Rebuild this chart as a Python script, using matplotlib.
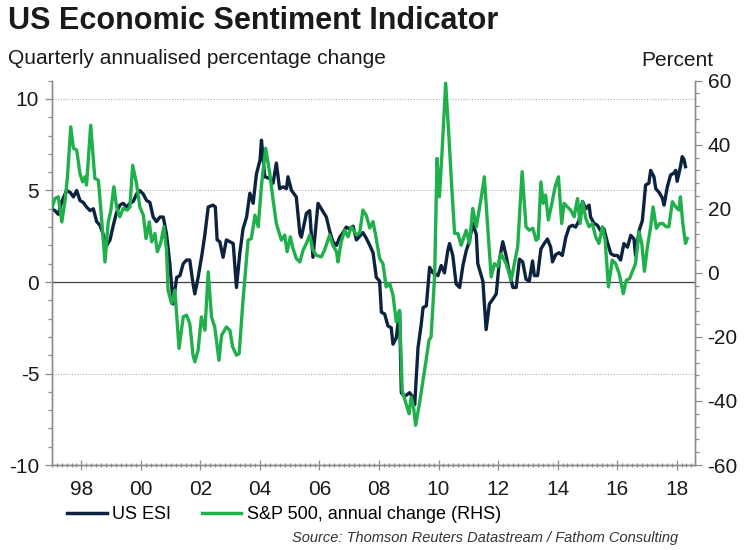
import matplotlib.pyplot as plt
from matplotlib.lines import Line2D
from matplotlib.ticker import MultipleLocator

plt.rcParams['font.family'] = ['Liberation Sans', 'DejaVu Sans']
plt.rcParams['axes.unicode_minus'] = False

# ---------------------------
# DATA
# ---------------------------
esi_t = [1997.00, 1997.11, 1997.22, 1997.34, 1997.50, 1997.62, 1997.73, 1997.84, 1997.95, 1998.06,
         1998.17, 1998.29, 1998.40, 1998.51, 1998.62, 1998.73, 1998.85, 1998.96, 1999.07, 1999.18,
         1999.29, 1999.40, 1999.52, 1999.63, 1999.74, 1999.85, 1999.96, 2000.08, 2000.19, 2000.30,
         2000.41, 2000.52, 2000.64, 2000.75, 2000.86, 2000.97, 2001.08, 2001.20, 2001.31, 2001.42,
         2001.53, 2001.64, 2001.75, 2001.81, 2001.92, 2002.05, 2002.14, 2002.26, 2002.42, 2002.50,
         2002.56, 2002.65, 2002.76, 2002.87, 2002.99, 2003.10, 2003.21, 2003.32, 2003.43, 2003.55,
         2003.66, 2003.77, 2003.88, 2004.00, 2004.05, 2004.16, 2004.33, 2004.44, 2004.55, 2004.66,
         2004.78, 2004.89, 2004.94, 2005.06, 2005.22, 2005.34, 2005.39, 2005.56, 2005.67, 2005.78,
         2005.95, 2006.12, 2006.23, 2006.34, 2006.45, 2006.57, 2006.68, 2006.79, 2006.90, 2007.01,
         2007.13, 2007.24, 2007.35, 2007.46, 2007.57, 2007.69, 2007.80, 2007.91, 2008.02, 2008.08,
         2008.19, 2008.30, 2008.41, 2008.47, 2008.58, 2008.69, 2008.75, 2008.86, 2009.03, 2009.14,
         2009.20, 2009.31, 2009.42, 2009.48, 2009.59, 2009.70, 2009.81, 2009.98, 2010.09, 2010.20,
         2010.31, 2010.37, 2010.48, 2010.59, 2010.71, 2010.82, 2010.93, 2011.04, 2011.15, 2011.27,
         2011.32, 2011.49, 2011.60, 2011.71, 2011.82, 2011.94, 2012.05, 2012.16, 2012.27, 2012.38,
         2012.50, 2012.61, 2012.72, 2012.83, 2012.94, 2013.05, 2013.16, 2013.22, 2013.33, 2013.44,
         2013.55, 2013.66, 2013.77, 2013.83, 2013.94, 2014.05, 2014.16, 2014.28, 2014.39, 2014.50,
         2014.61, 2014.72, 2014.84, 2014.95, 2015.06, 2015.11, 2015.23, 2015.34, 2015.45, 2015.56,
         2015.67, 2015.79, 2015.90, 2016.01, 2016.12, 2016.23, 2016.35, 2016.46, 2016.57, 2016.62,
         2016.74, 2016.85, 2016.96, 2017.07, 2017.13, 2017.24, 2017.30, 2017.41, 2017.52, 2017.58,
         2017.69, 2017.80, 2017.91, 2017.97, 2018.02, 2018.13, 2018.19, 2018.25, 2018.30]
esi_v = [4.0, 3.9, 3.7, 4.4, 5.0, 4.9, 4.65, 5.0, 4.45, 4.35,
         4.1, 3.9, 4.0, 3.3, 3.1, 2.6, 2.0, 2.3, 3.1, 3.8,
         4.2, 4.3, 4.1, 4.3, 4.4, 4.8, 5.0, 4.8, 4.45, 4.35,
         3.55, 3.3, 3.55, 3.55, 2.6, 1.0, -1.2, 0.25, 0.35, 1.0,
         1.2, 1.2, -0.1, -0.65, 0.25, 1.5, 2.5, 4.1, 4.2, 4.1,
         2.3, 2.2, 1.35, 2.3, 2.2, 2.1, -0.3, 1.55, 2.9, 3.55,
         4.85, 4.3, 5.9, 6.65, 7.75, 5.75, 5.65, 5.4, 6.5, 5.1,
         5.2, 5.1, 5.75, 5.0, 4.65, 2.65, 2.45, 3.75, 3.9, 1.35,
         4.3, 3.85, 3.55, 2.8, 2.2, 2.0, 2.45, 2.7, 3.0, 2.9,
         3.05, 2.3, 2.5, 2.7, 2.4, 2.0, 1.6, 0.25, 0.05, -1.65,
         -1.75, -2.4, -2.5, -3.4, -3.05, -1.6, -6.05, -6.25, -6.05, -6.3,
         -6.7, -3.6, -2.3, -1.4, -1.3, 0.8, 0.5, 0.35, 0.9, 0.5,
         1.7, 2.1, 1.45, -0.1, -0.3, 0.9, 1.7, 2.25, 3.2, 2.6,
         1.0, 0.05, -2.6, -1.2, -0.95, -0.65, 1.25, 2.2, 1.45, 0.5,
         -0.3, -0.3, 1.25, 1.1, 0.15, 0.05, 1.15, 0.35, 0.35, 1.8,
         2.1, 2.35, 1.9, 1.1, 1.5, 1.6, 1.45, 2.45, 3.0, 3.1,
         3.0, 3.35, 4.4, 4.0, 4.2, 3.55, 3.2, 3.1, 2.8, 2.9,
         2.2, 1.55, 1.45, 1.45, 1.2, 2.1, 1.9, 2.55, 2.35, 1.45,
         2.8, 3.35, 5.3, 5.4, 6.1, 5.75, 5.1, 4.9, 4.6, 4.2,
         5.2, 5.85, 5.95, 6.1, 5.5, 6.3, 6.85, 6.7, 6.3]

spx_t = [1997.00, 1997.11, 1997.22, 1997.34, 1997.45, 1997.53, 1997.64, 1997.73, 1997.84, 1997.95,
         1998.04, 1998.12, 1998.17, 1998.31, 1998.45, 1998.57, 1998.68, 1998.79, 1998.90, 1998.98,
         1999.09, 1999.18, 1999.29, 1999.40, 1999.54, 1999.63, 1999.72, 1999.85, 1999.96, 2000.08,
         2000.17, 2000.28, 2000.36, 2000.47, 2000.55, 2000.66, 2000.77, 2000.86, 2000.91, 2001.03,
         2001.14, 2001.28, 2001.42, 2001.53, 2001.64, 2001.75, 2001.81, 2001.92, 2002.03, 2002.15,
         2002.26, 2002.37, 2002.48, 2002.62, 2002.71, 2002.87, 2002.99, 2003.08, 2003.21, 2003.30,
         2003.43, 2003.60, 2003.71, 2003.83, 2003.94, 2004.05, 2004.19, 2004.33, 2004.44, 2004.55,
         2004.72, 2004.83, 2004.91, 2005.02, 2005.11, 2005.22, 2005.34, 2005.45, 2005.56, 2005.67,
         2005.78, 2005.89, 2006.06, 2006.17, 2006.34, 2006.45, 2006.57, 2006.62, 2006.73, 2006.85,
         2006.96, 2007.07, 2007.24, 2007.35, 2007.46, 2007.57, 2007.69, 2007.80, 2007.91, 2008.02,
         2008.13, 2008.24, 2008.36, 2008.47, 2008.58, 2008.69, 2008.78, 2008.89, 2009.01, 2009.08,
         2009.16, 2009.23, 2009.36, 2009.48, 2009.59, 2009.68, 2009.75, 2009.87, 2009.95, 2010.03,
         2010.11, 2010.24, 2010.35, 2010.43, 2010.54, 2010.65, 2010.76, 2010.93, 2011.04, 2011.15,
         2011.27, 2011.43, 2011.54, 2011.66, 2011.77, 2011.88, 2011.99, 2012.10, 2012.27, 2012.44,
         2012.55, 2012.66, 2012.81, 2012.94, 2013.05, 2013.17, 2013.28, 2013.35, 2013.44, 2013.52,
         2013.60, 2013.69, 2013.81, 2013.92, 2014.03, 2014.14, 2014.22, 2014.33, 2014.44, 2014.56,
         2014.67, 2014.76, 2014.84, 2014.95, 2015.06, 2015.17, 2015.28, 2015.39, 2015.51, 2015.60,
         2015.71, 2015.84, 2015.95, 2016.07, 2016.21, 2016.31, 2016.42, 2016.51, 2016.62, 2016.74,
         2016.83, 2016.92, 2017.02, 2017.13, 2017.21, 2017.32, 2017.43, 2017.54, 2017.65, 2017.74,
         2017.86, 2017.97, 2018.08, 2018.13, 2018.21, 2018.30, 2018.36]
spx_v = [20.1, 23.2, 23.75, 15.9, 22.7, 30.0, 45.6, 38.9, 38.3, 31.0,
         28.4, 30.0, 27.4, 46.1, 29.5, 28.9, 16.5, 3.4, 15.9, 19.1,
         26.9, 20.6, 17.5, 20.1, 19.6, 20.6, 33.6, 27.9, 20.6, 18.0,
         10.7, 15.9, 9.7, 12.3, 6.6, 9.2, 14.4, 7.1, -5.4, -9.6,
         -5.4, -23.6, -13.75, -13.2, -15.8, -25.7, -27.8, -24.2, -13.75, -17.9,
         0.3, -13.75, -16.9, -27.3, -19.5, -16.9, -18.0, -23.1, -25.7, -25.2,
         -8.5, 10.2, 10.7, 18.0, 14.4, 27.4, 38.9, 31.0, 22.7, 15.4,
         10.2, 11.8, 6.6, 11.25, 7.6, 4.5, 3.4, 7.1, 9.2, 11.8,
         7.1, 5.5, 5.0, 7.1, 11.8, 8.6, 6.6, 3.4, 9.7, 13.3,
         11.25, 14.4, 11.8, 12.5, 19.6, 18.0, 14.0, 16.0, 10.5, 4.5,
         2.9, -4.4, -3.3, -7.0, -15.3, -11.7, -36.7, -40.3, -44.0, -38.8,
         -41.9, -47.6, -40.8, -33.5, -26.8, -21.0, -20.0, -0.7, 35.7, 23.75,
         36.25, 59.2, 42.5, 29.0, 12.3, 12.3, 8.6, 13.3, 9.2, 20.1,
         14.4, 23.2, 30.0, 13.3, -1.25, 2.9, 1.9, 6.0, 2.9, -2.3,
         2.9, 8.1, 31.6, 14.4, 13.3, 13.9, 10.2, 10.7, 28.4, 21.7,
         24.3, 16.5, 21.7, 26.9, 30.0, 15.4, 21.7, 20.6, 19.6, 17.5,
         23.2, 15.4, 22.2, 17.0, 14.4, 15.4, 11.25, 9.2, 14.4, 10.2,
         -4.4, 4.0, 2.9, -0.2, -6.5, -2.3, -1.8, 0.3, 2.9, 12.8,
         9.2, 0.5, 8.1, 14.4, 20.6, 13.9, 15.4, 15.4, 14.4, 14.4,
         22.2, 20.6, 19.6, 23.75, 15.4, 9.2, 10.7]

year_ticks = list(range(1998, 2019, 2))
year_labels = ['98', '00', '02', '04', '06', '08', '10', '12', '14', '16', '18']

navy = '#0c2340'
green = '#1fb04b'
grey = '#8c8c8c'
txt = '#1a1a1a'

# ---------------------------
# FIGURE
# ---------------------------
fig = plt.figure(figsize=(7.45, 5.5), dpi=100)
ax = fig.add_axes([0.0694, 0.1545, 0.8635, 0.6988])
ax2 = ax.twinx()

ax.plot(esi_t, esi_v, color=navy, lw=2.4, zorder=3)
ax2.plot(spx_t, spx_v, color=green, lw=2.4, zorder=3)

ax.set_xlim(1997.0, 2018.62)
ax.set_ylim(-10, 11)
ax2.set_ylim(-60, 60)

# gridlines
for g in [10, 5, -5]:
    ax.axhline(g, color='#b0b0b0', lw=0.8, ls=(0, (1, 1.5)), zorder=1)
ax.axhline(0, color='#404040', lw=0.9, zorder=2)

ax.set_yticks([-10, -5, 0, 5, 10])
ax.yaxis.set_minor_locator(MultipleLocator(1))
ax2.set_yticks([-60, -40, -20, 0, 20, 40, 60])
ax2.yaxis.set_minor_locator(MultipleLocator(4))
ax.set_xticks(year_ticks)
ax.set_xticklabels(year_labels)
ax.xaxis.set_minor_locator(MultipleLocator(1 / 6))

for a in (ax, ax2):
    a.spines['top'].set_visible(False)
    for s in ('left', 'right', 'bottom'):
        a.spines[s].set_color(grey)
        a.spines[s].set_linewidth(1.0)
    a.tick_params(which='both', colors=grey, labelcolor=txt, labelsize=15, width=0.9)
    a.tick_params(which='major', length=5)
    a.tick_params(which='minor', length=3)
ax.tick_params(axis='x', which='both', direction='inout', pad=7)
ax.tick_params(axis='x', which='major', length=7)
ax.tick_params(axis='y', pad=4)
ax2.tick_params(axis='y', pad=4)

# texts
fig.text(0.011, 0.962, 'US Economic Sentiment Indicator', fontsize=22, fontweight='bold',
         color=txt, va='center', ha='left')
fig.text(0.011, 0.894, 'Quarterly annualised percentage change', fontsize=15,
         color=txt, va='center', ha='left')
fig.text(0.957, 0.890, 'Percent', fontsize=15, color=txt, va='center', ha='right')

handles = [Line2D([], [], color=navy, lw=2.5), Line2D([], [], color=green, lw=2.5)]
fig.legend(handles, ['US ESI', 'S&P 500, annual change (RHS)'], loc='center left',
           bbox_to_anchor=(0.068, 0.064), ncol=2, frameon=False, fontsize=13,
           handlelength=2.2, handletextpad=0.3, columnspacing=1.7)
fig.text(0.910, 0.021, 'Source: Thomson Reuters Datastream / Fathom Consulting',
         fontsize=10.5, style='italic', color='#333333', ha='right', va='center')

fig.savefig('out.png', dpi=100)
